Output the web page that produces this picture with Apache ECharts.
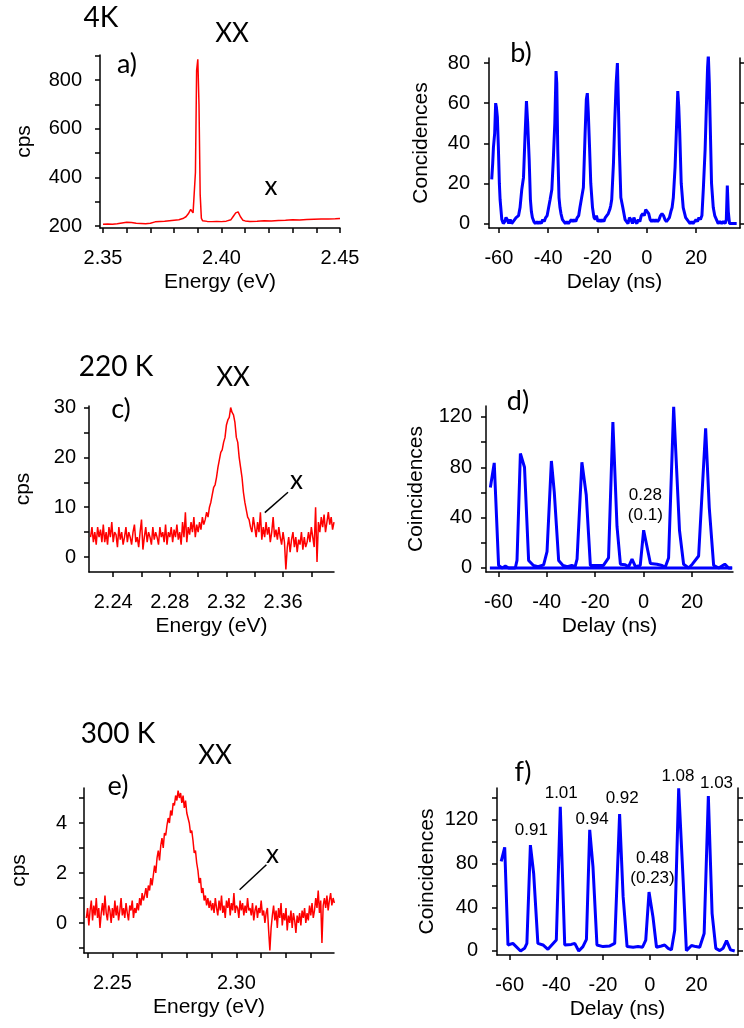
<!DOCTYPE html>
<html><head><meta charset="utf-8">
<script src="https://cdn.jsdelivr.net/npm/echarts@6/dist/echarts.min.js"></script>
<style>html,body{margin:0;padding:0;background:#fff}#main{width:744px;height:1028px}</style>
</head><body><div id="main"></div>
<script>
// ---------- DATA ----------
// a) 4 K spectrum: [energy eV, cps]
const spec4K = [[2.350,207],[2.352,208],[2.354,207],[2.356,209],[2.358,212],[2.360,215],[2.362,214],[2.364,211],[2.366,210],[2.368,209],[2.370,211],[2.372,217],[2.374,219],[2.376,220],[2.378,222],[2.380,224],[2.382,226],[2.384,232],[2.385,238],[2.386,250],[2.387,268],[2.388,254],[2.3885,262],[2.389,420],[2.3895,840],[2.390,885],[2.3905,700],[2.391,330],[2.3915,232],[2.392,222],[2.394,219],[2.396,218],[2.398,219],[2.400,218],[2.402,220],[2.404,226],[2.405,240],[2.406,254],[2.407,258],[2.408,238],[2.409,224],[2.410,221],[2.412,219],[2.415,220],[2.418,222],[2.421,221],[2.424,223],[2.427,224],[2.430,226],[2.433,225],[2.436,227],[2.439,228],[2.442,229],[2.445,229],[2.448,230],[2.450,231]];

// b) 4 K coincidences: [delay ns, counts]
const coinc4K = [[-62.9,22],[-62.5,30],[-62.2,38],[-61.7,45],[-61.3,60],[-61.0,58],[-60.6,53],[-60.2,38],[-59.8,20],[-59.5,12],[-58.8,2],[-58.2,0],[-57.6,1],[-57.1,3],[-56.6,2],[-56.0,0],[-55.4,2],[-54.8,0],[-54.2,1],[-53.6,2],[-53.0,3],[-52.4,3],[-52.0,4],[-51.4,8],[-50.7,17],[-50.0,23],[-49.4,43],[-48.8,61],[-48.3,50],[-47.7,32],[-47.2,12],[-46.8,6],[-46.4,3],[-45.8,1],[-45.2,0],[-44.6,1],[-44.0,0],[-43.4,1],[-42.8,0],[-42.2,2],[-41.6,1],[-41.0,3],[-40.4,4],[-39.8,8],[-39.2,12],[-38.5,17],[-37.9,32],[-37.3,50],[-36.8,76],[-36.5,70],[-36.1,37],[-35.6,13],[-35.2,8],[-34.8,5],[-34.2,2],[-33.6,1],[-33.0,0],[-32.4,1],[-31.8,0],[-31.2,1],[-30.6,2],[-30.0,1],[-29.4,2],[-28.8,1],[-28.2,3],[-27.6,4],[-27.1,8],[-26.4,13],[-25.7,18],[-25.0,45],[-24.5,62],[-24.1,65],[-23.7,55],[-23.2,38],[-22.7,20],[-22.0,8],[-21.4,3],[-20.9,2],[-20.4,4],[-19.8,1],[-19.2,2],[-18.6,1],[-18.0,2],[-17.4,1],[-16.8,3],[-16.2,4],[-15.6,5],[-15.0,7],[-14.6,9],[-14.2,12],[-13.5,30],[-13.0,50],[-12.4,70],[-11.9,80],[-11.5,60],[-11.1,37],[-10.5,13],[-9.7,8],[-8.8,2],[-8.2,1],[-7.6,0],[-7.0,3],[-6.4,2],[-5.8,0],[-5.2,3],[-4.6,1],[-4.0,0],[-3.4,2],[-2.8,1],[-2.2,4],[-1.6,5],[-1.0,4],[-0.4,7],[0.2,7],[0.8,5],[1.4,2],[2.0,1],[2.6,2],[3.2,1],[3.8,2],[4.4,1],[5.0,2],[5.6,4],[6.2,5],[6.8,4],[7.4,2],[8.0,1],[8.6,2],[9.2,3],[9.8,6],[10.3,8],[10.8,13],[11.5,28],[12.0,45],[12.6,66],[13.0,58],[13.4,45],[14.0,20],[14.8,8],[15.8,3],[16.4,2],[17.0,1],[17.6,0],[18.2,1],[18.8,0],[19.4,1],[20.0,2],[20.6,1],[21.2,3],[21.8,2],[22.4,4],[23.0,18],[23.7,37],[24.3,62],[24.7,78],[25.0,84],[25.4,70],[25.7,53],[26.3,20],[27.0,8],[27.6,4],[28.3,2],[29.0,0],[29.7,1],[30.4,0],[31.1,1],[31.8,0],[32.3,2],[32.7,19],[33.1,6],[33.6,0],[34.4,0],[35.2,0],[36.0,0],[36.5,0]];

// c) 220 K spectrum, energy grid start/step and cps values
const spec220Start = 2.224, spec220Step = 0.001;
const spec220 = [4,6,3,5,2.5,6,4,5.5,3,6.5, 3,5,2.5,6,4,7,3,5,4.5,2, 6,3.5,5,2.5,4,6,3,5,4,2.5, 5,6.5,3,4,2,5,7.5,1.5,4,6, 3,5,4,2.5,6,3.5,5,4,2.5,6, 4,5,3,6.5,2.5,5,4,6,3,5.5, 4,6.5,3.5,5,2.5,7,4,9,3,6, 4.5,7,5,8,4,6.5,5, 7,5.5,8,6.5,7.5,9, 8,10,11, 12.5,14,14.5,16,18,19.5,21,21.5,23, 24,26.5,27.5,28,30,29,28.5,27, 24,23,20,18,16,13, 11,9.5,8,7.5,6, 5,8,6,4,7,5,9,3.5,6,4, 7,4.5,6,3,5,8,4,5.5,3.5,6, 4,2.5,5,3,-2.5,2,4,1,3.5,5, 2,4,1,3.5,2.5,5,1.5,4,2,3, 5,3,6,4,2,10,-1,7,5,8, 6,8.5,5,7,9,6.5,8,5.5,7];

// d) 220 K coincidences
const coinc220 = [[-63.3,64],[-61.7,83.5],[-59.9,2],[-58.4,0],[-57.1,1.5],[-55.8,0],[-54.3,0],[-53.0,0],[-52.3,6],[-50.9,91],[-49.2,80],[-47.5,6],[-45.5,2],[-43.6,1],[-41.3,2.5],[-39.9,13],[-38.1,85],[-36.9,60],[-35.1,6],[-33.3,2],[-31.5,1],[-29.7,2],[-28.3,1],[-27.5,7],[-25.5,84],[-23.7,58],[-22.0,2],[-20.2,2],[-18.4,2],[-16.6,2],[-15.8,2],[-14.5,8],[-12.7,116],[-11.0,33],[-9.6,3],[-7.6,2.5],[-6.2,1],[-4.8,7],[-3.4,1],[-1.4,2],[0.0,30],[2.8,3.5],[5.5,3],[7.6,2],[8.9,0.5],[10.3,8],[12.4,128],[14.8,30],[16.5,3],[18.6,0],[20.1,3],[22.7,9.5],[25.6,111],[27.1,48],[28.9,2],[31.0,0],[33.5,3],[35.1,0],[36.5,0]];
const coinc220Base = [[-63.5,0],[36.6,0]];

// e) 300 K spectrum
const spec300Start = 2.2395, spec300Step = 0.0005;
const spec300 = [0.2,0.6,-0.1,0.5,0.9,0.1,0.7,0.3,1.0,0.2, 0.6,-0.2,0.4,0.8,0.3,1.1,0.4,0.1,0.7,0.5, 0.0,0.6,0.2,0.9,0.3,0.7,0.1,0.5,1.0,0.3, 0.6,0.2,0.8,0.4,0.1,0.7,0.5,0.9,0.2,0.6, 0.4,
 0.8,0.5,1.0,0.7,1.2,0.9,1.1,1.4,1.0,1.5,1.3,1.8,1.5,
 1.9,2.3,2.0,2.6,2.9,2.5,3.1,3.4,3.0,
 3.6,3.5,3.9,4.2,4.0,4.5,4.3,4.8,4.7,5.1,4.9,5.3,5.0,
 5.2,4.8,5.1,4.6,4.9,4.4,
 4.2,4.0,3.6,3.7,3.3,2.8,2.9,2.4,2.1,1.6,1.8,
 1.2,1.4,0.9,1.1,0.7,1.0,0.6,0.9,0.5,
 0.8,0.4,1.0,0.6,0.3,0.9,0.5,1.1,0.4,0.7, 0.2,0.9,0.6,1.0,0.3,0.8,0.5,1.2,0.4,0.7, 0.6,0.2,0.9,0.5,0.8,0.3,0.7,0.4,1.0,0.5, 0.6,0.3,0.8,0.1,0.5,0.7,0.2,0.6,0.4,0.9,
 0.3,0.5,0.0,0.4,0.6,-0.3,-1.1,-0.2,0.3,0.7, 0.1,0.5,-0.2,0.6,0.2,0.8,-0.1,0.4,0.1,0.6, -0.3,0.3,0.0,0.5,-0.2,0.4,0.1,-0.4,0.3,0.0,
 0.4,-0.1,0.5,0.2,0.6,0.0,0.4,0.1,0.7,0.3, 0.8,0.2,0.5,1.0,0.6,1.3,0.4,0.9,-0.8,0.7, 1.0,0.6,1.1,0.5,0.9,1.2,0.7,1.0,0.8];

// f) 300 K coincidences
const coinc300 = [[-63.6,82],[-62.1,95],[-60.7,5.5],[-58.6,7],[-55.3,0],[-53.6,2.4],[-52.6,7],[-51.1,97],[-49.7,71],[-47.9,7],[-45.7,5.5],[-43.6,1.5],[-40.0,10],[-38.3,132],[-36.4,5.5],[-33.6,6],[-32.1,7],[-30.4,0],[-28.6,4],[-27.1,10.7],[-25.7,111],[-24.3,77],[-22.6,5.5],[-20.0,4],[-17.1,4.6],[-15.0,7],[-12.9,125.5],[-11.4,50],[-9.7,4],[-7.1,3.4],[-5.0,4],[-3.1,3.4],[-1.7,10],[-0.3,54],[1.4,31],[2.9,3.4],[5.0,4.6],[6.4,5.5],[7.9,2.4],[9.3,1],[10.7,19],[12.4,149],[14.3,65],[15.7,0.3],[17.9,5],[19.7,4],[21.4,3.4],[23.3,16],[25.1,142],[26.7,34.5],[28.3,2.4],[30.0,0.3],[31.4,2.4],[32.9,9.5],[34.6,1],[36.4,0]];

// peak ratio annotations [delay, counts, text]
const ratios220 = [[0.7,49.5,'0.28\n(0.1)']];
const ratios300 = [[-50.7,110.8,'0.91'],[-37.9,144.4,'1.01'],[-24.7,120.9,'0.94'],[-11.8,139.8,'0.92'],[1.2,75.4,'0.48\n(0.23)'],[12.1,160.3,'1.08'],[28.6,153.7,'1.03']];

// ticks
const ticksA_x = [2.35,2.36,2.37,2.38,2.39,2.40,2.41,2.42,2.43,2.44,2.45], labelsA_x = [2.35,2.40,2.45];
const ticksA_y = [200,300,400,500,600,700,800,900], labelsA_y = [200,400,600,800];
const ticksDelay = [-60,-40,-20,0,20];
const ticksB_y = [0,20,40,60,80];
const ticksC_x = [2.24,2.26,2.28,2.30,2.32,2.34,2.36,2.38], labelsC_x = [2.24,2.28,2.32,2.36];
const ticksC_y = [0,5,10,15,20,25,30], labelsC_y = [0,10,20,30];
const ticksD_y = [0,20,40,60,80,100,120], labelsD_y = [0,40,80,120];
const ticksE_x = [2.24,2.25,2.26,2.27,2.28,2.29,2.30,2.31,2.32,2.33,2.34], labelsE_x = [2.25,2.30];
const ticksE_y = [-1,0,1,2,3,4,5], labelsE_y = [0,2,4];
const ticksF_y = [0,20,40,60,80,100,120,140], labelsF_y = [0,40,80,120];

// ---------- CHART ----------
const FONT = '"Liberation Sans", Arial, sans-serif';
const TFONT = 'Lato, sans-serif';
const chart = echarts.init(document.getElementById('main'), null, {renderer: 'canvas'});

function xAx(g, min, max, ticks, labels, digits, name) {
  return {
    type: 'value', gridIndex: g, min, max, position: 'bottom',
    name, nameLocation: 'middle', nameGap: 44,
    nameTextStyle: {fontFamily: FONT, fontSize: 21, color: '#000'},
    axisLine: {show: true, onZero: false, lineStyle: {color: '#000', width: 1.5}},
    axisTick: {show: true, inside: false, length: 5, customValues: ticks, lineStyle: {color: '#000', width: 1.5}},
    axisLabel: {show: true, customValues: labels, margin: 20, fontFamily: FONT, fontSize: 20, color: '#000',
      formatter: v => Number(v).toFixed(digits)},
    splitLine: {show: false}
  };
}
function yAx(g, min, max, ticks, labels, name, nameGap, margin, pos) {
  const right = pos === 'right';
  return {
    type: 'value', gridIndex: g, min, max, position: right ? 'right' : 'left',
    name: right ? '' : name, nameLocation: 'middle', nameGap,
    nameTextStyle: {fontFamily: FONT, fontSize: 21, color: '#000'},
    axisLine: {show: true, onZero: false, lineStyle: {color: '#000', width: 1.5}},
    axisTick: {show: true, inside: false, length: 5, customValues: ticks, lineStyle: {color: '#000', width: 1.5}},
    axisLabel: {show: !right, customValues: labels, margin, fontFamily: FONT, fontSize: 20, color: '#000',
      formatter: v => String(Math.round(v))},
    splitLine: {show: false}
  };
}
function lineSeries(xi, yi, data, color, width) {
  return {type: 'line', xAxisIndex: xi, yAxisIndex: yi, data, showSymbol: false, symbol: 'none',
    lineStyle: {color, width}, itemStyle: {color}, animation: false, silent: true, sampling: null};
}

const spec220Data = spec220.map((v, i) => [spec220Start + i * spec220Step, v]);
const spec300Data = spec300.map((v, i) => [spec300Start + i * spec300Step, v]);

const RED = '#ff0000', BLUE = '#0000ff';

chart.setOption({
  animation: false,
  backgroundColor: '#ffffff',
  grid: [
    {left: 100, top: 55, width: 240, height: 173},
    {left: 489, top: 58, width: 251, height: 170},
    {left: 89, top: 406, width: 245, height: 166},
    {left: 486, top: 406, width: 247, height: 166},
    {left: 84, top: 788, width: 250, height: 165},
    {left: 497, top: 788, width: 241, height: 167}
  ],
  xAxis: [
    xAx(0, 2.34873, 2.45, ticksA_x, labelsA_x, 2, 'Energy (eV)'),
    xAx(1, -64.0, 37.85, ticksDelay, ticksDelay, 0, 'Delay (ns)'),
    xAx(2, 2.2229, 2.396, ticksC_x, labelsC_x, 2, 'Energy (eV)'),
    xAx(3, -65.1, 36.9, ticksDelay, ticksDelay, 0, 'Delay (ns)'),
    xAx(4, 2.23855, 2.33936, ticksE_x, labelsE_x, 2, 'Energy (eV)'),
    xAx(5, -65.4, 37.8, ticksDelay, ticksDelay, 0, 'Delay (ns)')
  ],
  yAxis: [
    yAx(0, 191.8, 902.7, ticksA_y, labelsA_y, 'cps', 65, 18),
    yAx(1, -2.2, 82.5, ticksB_y, ticksB_y, 'Concidences', 57, 19),
    yAx(1, -2.2, 82.5, ticksB_y, [], '', 0, 0, 'right'),
    yAx(2, -3.0, 30.3, ticksC_y, labelsC_y, 'cps', 55, 13),
    yAx(3, -3.2, 128.7, ticksD_y, labelsD_y, 'Coincidences', 59, 14),
    yAx(4, -1.2, 5.4, ticksE_y, labelsE_y, 'cps', 54, 17),
    yAx(5, -3.7, 149.3, ticksF_y, labelsF_y, 'Coincidences', 59, 19),
    yAx(5, -3.7, 149.3, ticksF_y, [], '', 0, 0, 'right')
  ],
  series: [
    lineSeries(0, 0, spec4K, RED, 1.5),
    lineSeries(1, 1, coinc4K, BLUE, 3),
    lineSeries(2, 3, spec220Data, RED, 1.5),
    lineSeries(3, 4, coinc220, BLUE, 3),
    lineSeries(3, 4, coinc220Base, BLUE, 3),
    lineSeries(4, 5, spec300Data, RED, 1.5),
    lineSeries(5, 6, coinc300, BLUE, 3)
  ]
});

// ---------- ANNOTATIONS ----------
function P(si, x, y) { return chart.convertToPixel({seriesIndex: si}, [x, y]); }
function txt(x, y, text, size, family) {
  return {type: 'text', x, y, silent: true, z: 100,
    style: {text, fill: '#000', font: size + 'px ' + family, fontSize: size, fontFamily: family,
      align: 'center', verticalAlign: 'middle', textAlign: 'center', textVerticalAlign: 'middle', lineHeight: Math.round(size * 1.15)}};
}
function ln(a, b) {
  return {type: 'line', silent: true, z: 100, shape: {x1: a[0], y1: a[1], x2: b[0], y2: b[1]},
    style: {stroke: '#000', lineWidth: 1.5}};
}
const g = [];
// panel headings (page layout positions)
g.push(txt(101, 18, '4K', 28, TFONT));
g.push(txt(232, 34, 'XX', 26, TFONT));
g.push(txt(127, 64, 'a)', 27, TFONT));
g.push(txt(521, 53, 'b)', 27, TFONT));
g.push(txt(116, 367, '220 K', 28, TFONT));
g.push(txt(233, 378, 'XX', 26, TFONT));
g.push(txt(121, 409, 'c)', 27, TFONT));
g.push(txt(518, 401, 'd)', 27, TFONT));
g.push(txt(118, 734, '300 K', 28, TFONT));
g.push(txt(215, 756, 'XX', 26, TFONT));
g.push(txt(118, 786, 'e)', 27, TFONT));
g.push(txt(523, 772, 'f)', 27, TFONT));
// exciton markers in data coordinates
let p = P(0, 2.4209, 360); g.push(txt(p[0], p[1], 'x', 26, TFONT));
p = P(2, 2.3694, 15.3); g.push(txt(p[0], p[1], 'x', 26, TFONT));
g.push(ln(P(2, 2.3471, 8.9), P(2, 2.3635, 13.0)));
p = P(5, 2.3146, 2.73); g.push(txt(p[0], p[1], 'x', 26, TFONT));
g.push(ln(P(5, 2.3013, 1.33), P(5, 2.3121, 2.33)));
// ratios
ratios220.forEach(r => { const q = P(3, r[0], r[1]); g.push(txt(q[0], q[1], r[2], 17, FONT)); });
ratios300.forEach(r => { const q = P(6, r[0], r[1]); g.push(txt(q[0], q[1], r[2], 17, FONT)); });
chart.setOption({graphic: g});
</script></body></html>
